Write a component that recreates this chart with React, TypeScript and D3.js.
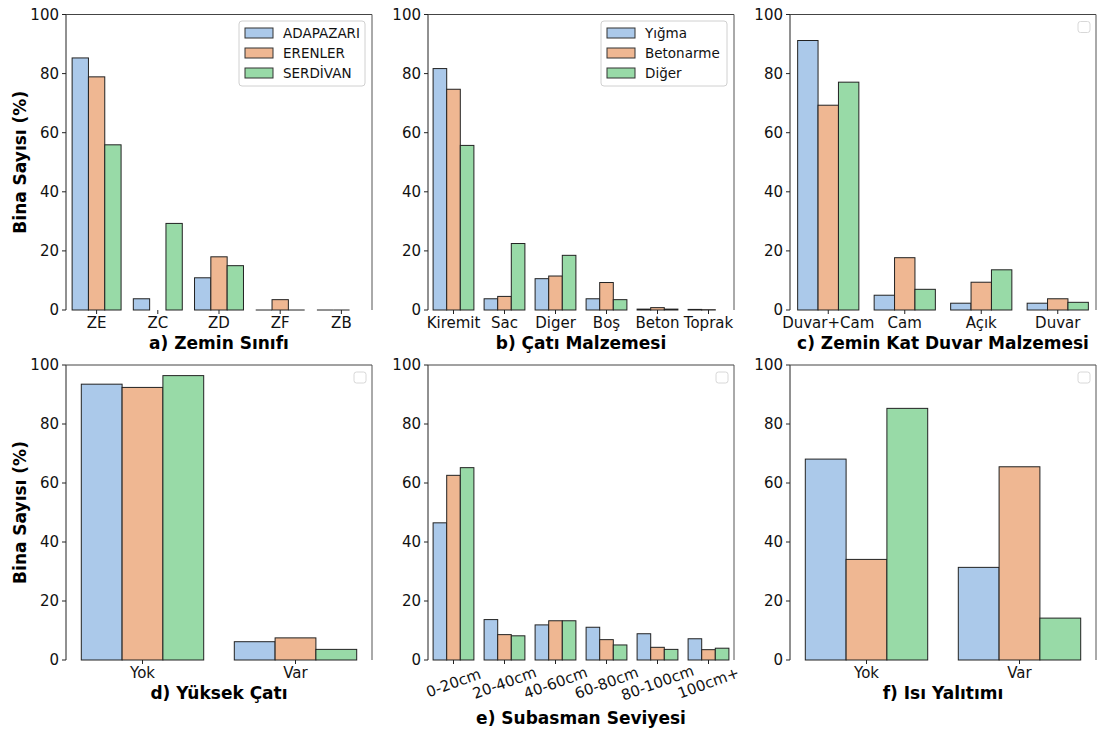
import React from "react";
import * as d3 from "d3";

// colours: seaborn pastel, desaturated like barplot does
const colors = ["#abc9ea", "#efb792", "#98daa7"];

const yTicks = [0, 20, 40, 60, 80, 100];

// a) Zemin Sınıfı
const zeminCats = ["ZE", "ZC", "ZD", "ZF", "ZB"];
const zeminAdapazari = [85.3, 3.8, 10.9, 0, 0];
const zeminErenler = [78.9, null, 18.0, 3.5, 0];
const zeminSerdivan = [55.9, 29.3, 15.0, 0, null];
const ilceNames = ["ADAPAZARI", "ERENLER", "SERDİVAN"];

// b) Çatı Malzemesi
const catiCats = ["Kiremit", "Sac", "Diger", "Boş", "Beton", "Toprak"];
const catiYigma = [81.7, 3.8, 10.6, 3.8, 0.3, 0.2];
const catiBetonarme = [74.7, 4.6, 11.5, 9.3, 0.8, 0.1];
const catiDiger = [55.7, 22.5, 18.5, 3.5, 0.3, null];
const yapiNames = ["Yığma", "Betonarme", "Diğer"];

// c) Zemin Kat Duvar Malzemesi
const duvarCats = ["Duvar+Cam", "Cam", "Açık", "Duvar"];
const duvarA = [91.2, 5.0, 2.3, 2.3];
const duvarB = [69.3, 17.7, 9.4, 3.8];
const duvarC = [77.1, 7.0, 13.6, 2.6];

// d) Yüksek Çatı
const yuksekCats = ["Yok", "Var"];
const yuksekA = [93.5, 6.2];
const yuksekB = [92.4, 7.5];
const yuksekC = [96.4, 3.6];

// e) Subasman Seviyesi
const subasmanCats = ["0-20cm", "20-40cm", "40-60cm", "60-80cm", "80-100cm", "100cm+"];
const subasmanA = [46.5, 13.7, 11.9, 11.1, 8.9, 7.2];
const subasmanB = [62.6, 8.6, 13.3, 6.9, 4.3, 3.5];
const subasmanC = [65.2, 8.2, 13.3, 5.1, 3.6, 4.0];

// f) Isı Yalıtımı
const isiCats = ["Yok", "Var"];
const isiA = [68.1, 31.4];
const isiB = [34.1, 65.5];
const isiC = [85.3, 14.2];

const font = "DejaVu Sans, Verdana, sans-serif";

type PanelProps = {
  left: number;
  top: number;
  w: number;
  h: number;
  cats: string[];
  series: (number | null)[][];
  xlabel: string;
  legend?: string[];
  rotate?: boolean;
  ylabel?: boolean;
};

function Panel({ left, top, w, h, cats, series, xlabel, legend, rotate, ylabel }: PanelProps) {
  const x = d3.scaleBand().domain(cats).range([0, w]).paddingInner(0.2).paddingOuter(0.1);
  const xs = d3
    .scaleBand()
    .domain(series.map((_, i) => String(i)))
    .range([0, x.bandwidth()]);
  const y = d3.scaleLinear().domain([0, 100]).range([h, 0]);

  return (
    <g transform={`translate(${left},${top})`} fontFamily={font}>
      {/* bars */}
      {series.map((vals, si) =>
        vals.map((v, ci) => {
          if (v === null) return null;
          const bx = (x(cats[ci]) ?? 0) + (xs(String(si)) ?? 0);
          if (v === 0) {
            return (
              <line
                key={`${si}-${ci}`}
                x1={bx}
                x2={bx + xs.bandwidth()}
                y1={y(0)}
                y2={y(0)}
                stroke="#222"
                strokeWidth={1}
              />
            );
          }
          return (
            <rect
              key={`${si}-${ci}`}
              x={bx}
              y={y(v)}
              width={xs.bandwidth()}
              height={y(0) - y(v)}
              fill={colors[si]}
              stroke="#222"
              strokeWidth={1}
            />
          );
        })
      )}

      {/* spines: left, top, right */}
      <line x1={0} x2={0} y1={0} y2={h} stroke="#222" strokeWidth={1} />
      <line x1={0} x2={w} y1={0} y2={0} stroke="#444" strokeWidth={1} />
      <line x1={w} x2={w} y1={0} y2={h} stroke="#555" strokeWidth={1} />

      {/* y axis */}
      {yTicks.map(t => (
        <g key={t} transform={`translate(0,${y(t)})`}>
          <line x1={-4} x2={0} stroke="#222" />
          <text x={-7} textAnchor="end" dominantBaseline="central" fontSize={15} fill="#111">
            {t}
          </text>
        </g>
      ))}

      {/* x axis */}
      {cats.map(c => {
        const cx = (x(c) ?? 0) + x.bandwidth() / 2;
        return (
          <g key={c}>
            <line x1={cx} x2={cx} y1={h} y2={h + 4} stroke="#222" />
            {rotate ? (
              <text
                x={cx}
                y={h + 23}
                textAnchor="middle"
                dominantBaseline="central"
                fontSize={15}
                fill="#111"
                transform={`rotate(-20,${cx},${h + 23})`}
              >
                {c}
              </text>
            ) : (
              <text x={cx} y={h + 13} textAnchor="middle" dominantBaseline="central" fontSize={15} fill="#111">
                {c}
              </text>
            )}
          </g>
        );
      })}

      <text
        x={w / 2}
        y={rotate ? h + 58 : h + 33}
        textAnchor="middle"
        dominantBaseline="central"
        fontSize={17}
        fontWeight="bold"
        fill="#000"
      >
        {xlabel}
      </text>

      {ylabel && (
        <text
          transform={`translate(${20 - left},${h / 2}) rotate(-90)`}
          textAnchor="middle"
          dominantBaseline="central"
          fontSize={17}
          fontWeight="bold"
          fill="#000"
        >
          Bina Sayısı (%)
        </text>
      )}

      {/* legend */}
      {legend ? (
        <g transform={`translate(${w - 133},6.5)`}>
          <rect x={0} y={0} width={126} height={65} rx={3} fill="#fff" fillOpacity={0.85} stroke="#d0d0d0" />
          {legend.map((name, i) => (
            <g key={name} transform={`translate(0,${12 + i * 20})`}>
              <rect x={6} y={-5} width={28} height={10} fill={colors[i]} stroke="#333" strokeWidth={1} />
              <text x={44} dominantBaseline="central" fontSize={13.5} fill="#111">
                {name}
              </text>
            </g>
          ))}
        </g>
      ) : (
        <rect x={w - 18} y={7} width={12} height={11} rx={2.5} fill="#fff" stroke="#d8d8d8" />
      )}
    </g>
  );
}

export default function App() {
  const w = 306;
  const lefts = [66, 428, 790];
  const topRow = { top: 14.5, h: 295.5 };
  const botRow = { top: 365, h: 295 };

  return (
    <svg
      width={1099}
      height={731}
      style={{ position: "absolute", left: 0, top: 0, background: "#fff" }}
    >
      <Panel
        left={lefts[0]}
        top={topRow.top}
        w={w}
        h={topRow.h}
        cats={zeminCats}
        series={[zeminAdapazari, zeminErenler, zeminSerdivan]}
        xlabel="a) Zemin Sınıfı"
        legend={ilceNames}
        ylabel
      />
      <Panel
        left={lefts[1]}
        top={topRow.top}
        w={w}
        h={topRow.h}
        cats={catiCats}
        series={[catiYigma, catiBetonarme, catiDiger]}
        xlabel="b) Çatı Malzemesi"
        legend={yapiNames}
      />
      <Panel
        left={lefts[2]}
        top={topRow.top}
        w={w}
        h={topRow.h}
        cats={duvarCats}
        series={[duvarA, duvarB, duvarC]}
        xlabel="c) Zemin Kat Duvar Malzemesi"
      />
      <Panel
        left={lefts[0]}
        top={botRow.top}
        w={w}
        h={botRow.h}
        cats={yuksekCats}
        series={[yuksekA, yuksekB, yuksekC]}
        xlabel="d) Yüksek Çatı"
        ylabel
      />
      <Panel
        left={lefts[1]}
        top={botRow.top}
        w={w}
        h={botRow.h}
        cats={subasmanCats}
        series={[subasmanA, subasmanB, subasmanC]}
        xlabel="e) Subasman Seviyesi"
        rotate
      />
      <Panel
        left={lefts[2]}
        top={botRow.top}
        w={w}
        h={botRow.h}
        cats={isiCats}
        series={[isiA, isiB, isiC]}
        xlabel="f) Isı Yalıtımı"
      />
    </svg>
  );
}
